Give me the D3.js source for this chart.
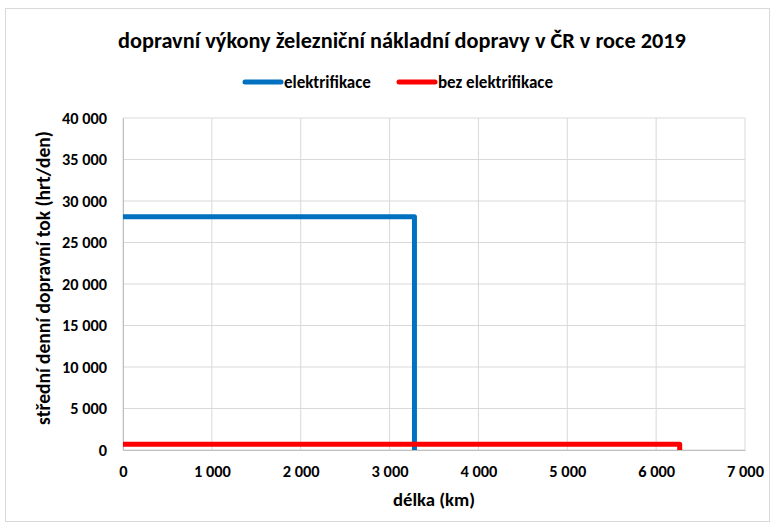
<!DOCTYPE html>
<html>
<head>
<meta charset="utf-8">
<script src="https://cdn.jsdelivr.net/npm/d3@7"></script>
<style>
  body { margin: 0; background: #fff; }
  text { font-family: Carlito, "Liberation Sans Narrow", "Open Sans", sans-serif; font-weight: bold; fill: #000; }
</style>
</head>
<body>
<div id="chart"></div>
<script>
// values
const seriesNames = ['elektrifikace', 'bez elektrifikace'];
const seriesColors = ['#0070c0', '#ff0000'];
const elektrLength = [0, 3280, 3280];
const elektrFlow = [28100, 28100, 0];
const bezLength = [0, 6265, 6265];
const bezFlow = [680, 680, 0];
const xTicks = [0, 1000, 2000, 3000, 4000, 5000, 6000, 7000];
const yTicks = [0, 5000, 10000, 15000, 20000, 25000, 30000, 35000, 40000];

const width = 776;
const height = 528;
const margin = { top: 118, right: 31, bottom: 78, left: 123 };

const svg = d3.select('#chart')
  .append('svg')
  .attr('width', width)
  .attr('height', height);

// chart border
svg.append('rect')
  .attr('x', 5.5).attr('y', 8.5)
  .attr('width', 764).attr('height', 513)
  .attr('fill', '#fff')
  .attr('stroke', '#d9d9d9');

const x = d3.scaleLinear()
  .domain([0, 7000])
  .range([margin.left, width - margin.right]);

const y = d3.scaleLinear()
  .domain([0, 40000])
  .range([height - margin.bottom, margin.top]);

const fmt = d => d3.format(',')(d).replace(/,/g, '\u00a0');

// gridlines
svg.append('g')
  .selectAll('line')
  .data(xTicks)
  .join('line')
  .attr('x1', d => x(d)).attr('x2', d => x(d))
  .attr('y1', y(0)).attr('y2', y(40000))
  .attr('stroke', '#d9d9d9');

svg.append('g')
  .selectAll('line')
  .data(yTicks)
  .join('line')
  .attr('x1', x(0)).attr('x2', x(7000))
  .attr('y1', d => y(d)).attr('y2', d => y(d))
  .attr('stroke', '#d9d9d9');

// axes
const xAxis = svg.append('g')
  .attr('transform', `translate(0, ${y(0)})`)
  .call(d3.axisBottom(x).tickValues(xTicks).tickFormat(fmt).tickSize(0).tickPadding(15));
xAxis.select('.domain').attr('stroke', '#bfbfbf');
xAxis.selectAll('text').style('font-size', '16.4px');

const yAxis = svg.append('g')
  .attr('transform', `translate(${x(0)}, 0)`)
  .call(d3.axisLeft(y).tickValues(yTicks).tickFormat(fmt).tickSize(0).tickPadding(16));
yAxis.select('.domain').attr('stroke', '#bfbfbf');
yAxis.selectAll('text').style('font-size', '16.3px');

// series lines
const line = d3.line().x(d => x(d[0])).y(d => y(d[1]));
const series = [
  d3.zip(elektrLength, elektrFlow),
  d3.zip(bezLength, bezFlow)
];

svg.append('g')
  .selectAll('path')
  .data(series)
  .join('path')
  .attr('d', line)
  .attr('fill', 'none')
  .attr('stroke', (d, i) => seriesColors[i])
  .attr('stroke-width', 5)
  .attr('stroke-linejoin', 'round');

// title
svg.append('text')
  .attr('x', 402).attr('y', 48)
  .attr('text-anchor', 'middle')
  .style('font-size', '22.3px')
  .text('dopravní výkony železniční nákladní dopravy v ČR v roce 2019');

// legend
const legendX = [243, 397];
const legend = svg.append('g')
  .selectAll('g')
  .data(seriesNames)
  .join('g')
  .attr('transform', (d, i) => `translate(${legendX[i]}, 82)`);
legend.append('line')
  .attr('x1', 2).attr('x2', 38)
  .attr('stroke', (d, i) => seriesColors[i])
  .attr('stroke-width', 5)
  .attr('stroke-linecap', 'round');
legend.append('text')
  .attr('x', 41).attr('y', 6)
  .style('font-size', '17px')
  .text(d => d);

// axis titles
svg.append('text')
  .attr('x', 434).attr('y', 506)
  .attr('text-anchor', 'middle')
  .style('font-size', '18.7px')
  .text('délka (km)');

svg.append('text')
  .attr('transform', 'translate(50, 278) rotate(-90)')
  .attr('text-anchor', 'middle')
  .style('font-size', '19.5px')
  .text('střední denní dopravní tok (hrt/den)');
</script>
</body>
</html>
